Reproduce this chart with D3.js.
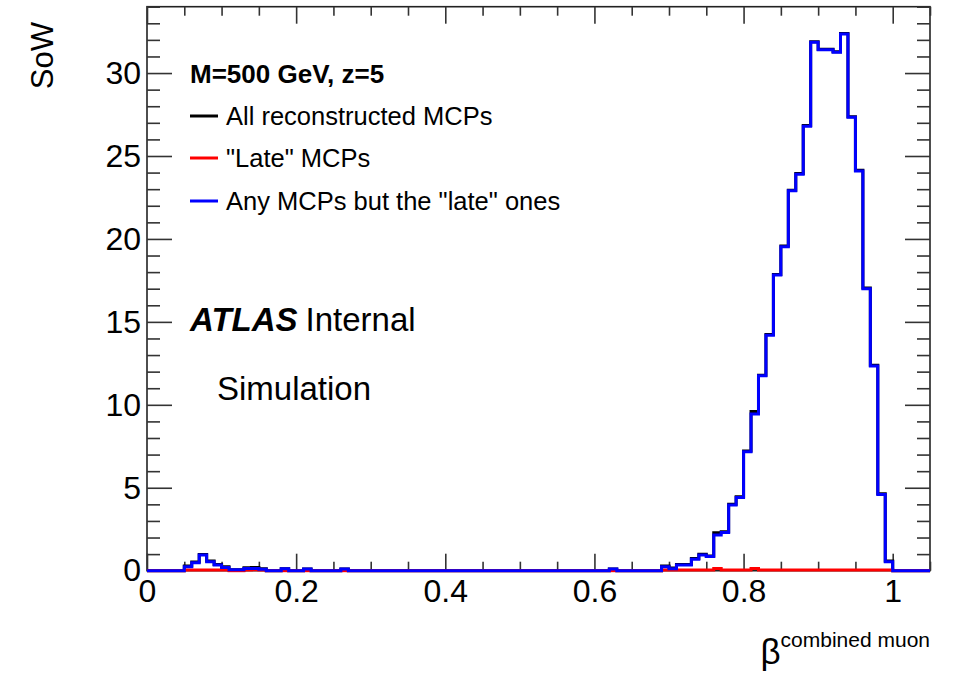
<!DOCTYPE html>
<html>
<head>
<meta charset="utf-8">
<script src="https://cdn.jsdelivr.net/npm/d3@7"></script>
<style>
  html, body { margin: 0; padding: 0; background: #fff; }
  svg { display: block; }
  text { font-family: "Liberation Sans", Arial, Helvetica, sans-serif; fill: #000; }
</style>
</head>
<body>
<svg id="chart" width="956" height="674"></svg>
<script>
// Histogram binning: 105 bins of width 0.01 from 0 to 1.05
const binWidth = 0.01;
const xDomain = [0, 1.05];
const yDomain = [0, 34];

// Bin contents, one entry per non-empty bin: [lowEdge, content]
const blueBins = [
  [0.05, 0.24], [0.06, 0.48], [0.07, 0.94], [0.08, 0.54], [0.09, 0.34], [0.10, 0.20],
  [0.11, 0.05], [0.12, 0.05], [0.13, 0.14], [0.14, 0.14], [0.15, 0.08],
  [0.18, 0.12], [0.21, 0.10], [0.26, 0.10], [0.62, 0.10],
  [0.69, 0.24], [0.70, 0.12], [0.71, 0.34], [0.72, 0.34], [0.73, 0.69], [0.74, 0.95],
  [0.75, 0.85], [0.76, 2.15], [0.77, 2.31], [0.78, 3.96], [0.79, 4.42], [0.80, 7.17],
  [0.81, 9.45], [0.82, 11.75], [0.83, 14.2], [0.84, 17.82], [0.85, 19.53], [0.86, 22.9],
  [0.87, 23.9], [0.88, 26.8], [0.89, 31.85], [0.90, 31.4], [0.91, 31.4], [0.92, 31.25],
  [0.93, 32.35], [0.94, 27.33], [0.95, 24.1], [0.96, 17.0], [0.97, 12.34], [0.98, 4.6],
  [0.99, 0.54]
];

const redBins = [
  [0.05, 0.04], [0.06, 0.04], [0.07, 0.04], [0.08, 0.04], [0.09, 0.04], [0.10, 0.04],
  [0.13, 0.04], [0.14, 0.06], [0.15, 0.04],
  [0.69, 0.04], [0.70, 0.04], [0.71, 0.04], [0.72, 0.04], [0.73, 0.04], [0.74, 0.04],
  [0.75, 0.04], [0.76, 0.14], [0.77, 0.04], [0.78, 0.04], [0.79, 0.04], [0.80, 0.04],
  [0.81, 0.14], [0.82, 0.04], [0.83, 0.04], [0.84, 0.04], [0.85, 0.04], [0.86, 0.04],
  [0.87, 0.04], [0.88, 0.04], [0.89, 0.04], [0.90, 0.04], [0.91, 0.04], [0.92, 0.04],
  [0.93, 0.04], [0.94, 0.04], [0.95, 0.04], [0.96, 0.04], [0.97, 0.04], [0.98, 0.04],
  [0.99, 0.04]
];

const blackBins = [
  [0.05, 0.28], [0.06, 0.52], [0.07, 0.98], [0.08, 0.58], [0.09, 0.38], [0.10, 0.24],
  [0.11, 0.05], [0.12, 0.05], [0.13, 0.18], [0.14, 0.20], [0.15, 0.12],
  [0.18, 0.12], [0.21, 0.10], [0.26, 0.10], [0.62, 0.10],
  [0.69, 0.28], [0.70, 0.16], [0.71, 0.38], [0.72, 0.38], [0.73, 0.73], [0.74, 0.99],
  [0.75, 0.89], [0.76, 2.29], [0.77, 2.35], [0.78, 4.00], [0.79, 4.46], [0.80, 7.21],
  [0.81, 9.59], [0.82, 11.79], [0.83, 14.24], [0.84, 17.86], [0.85, 19.57], [0.86, 22.94],
  [0.87, 23.94], [0.88, 26.84], [0.89, 31.89], [0.90, 31.44], [0.91, 31.44], [0.92, 31.29],
  [0.93, 32.39], [0.94, 27.37], [0.95, 24.14], [0.96, 17.04], [0.97, 12.38], [0.98, 4.64],
  [0.99, 0.58]
];

const xMajorTicks = [0, 0.2, 0.4, 0.6, 0.8, 1.0];
const xTickLabels = ["0", "0.2", "0.4", "0.6", "0.8", "1"];
const yMajorTicks = [0, 5, 10, 15, 20, 25, 30];
const yTickLabels = ["0", "5", "10", "15", "20", "25", "30"];

const legendHeader = "M=500 GeV, z=5";
const legendLabels = ["All reconstructed MCPs", "\"Late\" MCPs", "Any MCPs but the \"late\" ones"];
const legendColors = ["#000000", "#ff0000", "#0000ff"];

// ---- layout ----
const frame = { left: 147, right: 930, top: 6.7, bottom: 570.7 };
const svg = d3.select("#chart");

const x = d3.scaleLinear().domain(xDomain).range([frame.left, frame.right]);
const y = d3.scaleLinear().domain(yDomain).range([frame.bottom, frame.top]);

// Expand sparse bins into the full binned series
const nBins = Math.round((xDomain[1] - xDomain[0]) / binWidth);
function fullSeries(bins) {
  const vals = new Array(nBins).fill(0);
  bins.forEach(([lo, v]) => { vals[Math.round((lo - xDomain[0]) / binWidth)] = v; });
  return vals;
}

// Step outline of a histogram (top contour)
const stepLine = d3.line().x(d => x(d[0])).y(d => y(d[1])).curve(d3.curveStepAfter);
function outline(vals) {
  const pts = vals.map((v, i) => [xDomain[0] + i * binWidth, v]);
  pts.push([xDomain[0] + nBins * binWidth, vals[nBins - 1]]);
  return stepLine(pts);
}

// ---- frame and axes with inward ticks (ROOT style), drawn under the histograms ----
const tickColor = "#333";
const xMinor = d3.range(0, 1.0501, 0.05).filter(v => !xMajorTicks.some(m => Math.abs(m - v) < 1e-6));
const yMinor = d3.range(0, 34.01, 1).filter(v => v % 5 !== 0);

function styleAxis(g) {
  g.select(".domain").remove();
  g.selectAll(".tick line").attr("stroke", tickColor).attr("stroke-width", 1.6);
}

svg.append("rect")
  .attr("x", frame.left).attr("y", frame.top)
  .attr("width", frame.right - frame.left).attr("height", frame.bottom - frame.top)
  .attr("fill", "none").attr("stroke", "#222").attr("stroke-width", 1.6);

// bottom
svg.append("g").attr("transform", `translate(0,${frame.bottom})`)
  .call(d3.axisBottom(x).tickValues(xMajorTicks).tickSize(-17).tickPadding(9)
    .tickFormat((d, i) => xTickLabels[i]))
  .call(styleAxis)
  .call(g => g.selectAll("text").attr("font-size", 32).attr("fill", "#000")
    .attr("font-family", "Liberation Sans, Arial, sans-serif"));
svg.append("g").attr("transform", `translate(0,${frame.bottom})`)
  .call(d3.axisBottom(x).tickValues(xMinor).tickSize(-9).tickFormat(""))
  .call(styleAxis);
// top
svg.append("g").attr("transform", `translate(0,${frame.top})`)
  .call(d3.axisTop(x).tickValues(xMajorTicks).tickSize(-17).tickFormat(""))
  .call(styleAxis);
svg.append("g").attr("transform", `translate(0,${frame.top})`)
  .call(d3.axisTop(x).tickValues(xMinor).tickSize(-9).tickFormat(""))
  .call(styleAxis);
// left
svg.append("g").attr("transform", `translate(${frame.left},0)`)
  .call(d3.axisLeft(y).tickValues(yMajorTicks).tickSize(-25).tickPadding(6)
    .tickFormat((d, i) => yTickLabels[i]))
  .call(styleAxis)
  .call(g => g.selectAll("text").attr("font-size", 32).attr("fill", "#000")
    .attr("font-family", "Liberation Sans, Arial, sans-serif"));
svg.append("g").attr("transform", `translate(${frame.left},0)`)
  .call(d3.axisLeft(y).tickValues(yMinor).tickSize(-13).tickFormat(""))
  .call(styleAxis);
// right
svg.append("g").attr("transform", `translate(${frame.right},0)`)
  .call(d3.axisRight(y).tickValues(yMajorTicks).tickSize(-25).tickFormat(""))
  .call(styleAxis);
svg.append("g").attr("transform", `translate(${frame.right},0)`)
  .call(d3.axisRight(y).tickValues(yMinor).tickSize(-13).tickFormat(""))
  .call(styleAxis);

// ---- histograms ----
const plot = svg.append("g");
plot.append("defs").append("clipPath").attr("id", "clip")
  .append("rect").attr("x", frame.left).attr("y", frame.top - 2)
  .attr("width", frame.right - frame.left).attr("height", frame.bottom - frame.top + 4);

const hists = plot.append("g").attr("clip-path", "url(#clip)");
[[blackBins, "#000000"], [redBins, "#ff0000"], [blueBins, "#0000ff"]].forEach(([bins, col]) => {
  hists.append("path")
    .attr("d", outline(fullSeries(bins)))
    .attr("fill", "none")
    .attr("stroke", col)
    .attr("stroke-width", 3)
    .attr("stroke-linejoin", "miter");
});

// ---- axis titles ----
svg.append("text")
  .attr("transform", "translate(53,22) rotate(-90)")
  .attr("text-anchor", "end")
  .attr("font-size", 31)
  .text("SoW");

const xt = svg.append("text")
  .attr("x", frame.right).attr("y", 664)
  .attr("text-anchor", "end");
xt.append("tspan").attr("font-size", 35).text("β");
xt.append("tspan").attr("font-size", 21).attr("dy", -17).text("combined muon");

// ---- legend ----
svg.append("text").attr("x", 190).attr("y", 83)
  .attr("font-size", 26).attr("font-weight", "bold").text(legendHeader);

const legendY = [116, 158, 201];
legendLabels.forEach((lab, i) => {
  svg.append("line")
    .attr("x1", 190).attr("x2", 218).attr("y1", legendY[i]).attr("y2", legendY[i])
    .attr("stroke", legendColors[i]).attr("stroke-width", 3);
  svg.append("text").attr("x", 226).attr("y", legendY[i] + 9)
    .attr("font-size", 25.5).text(lab);
});

// ---- ATLAS label ----
const atl = svg.append("text").attr("x", 190).attr("y", 331).attr("font-size", 33);
atl.append("tspan").attr("font-weight", "bold").attr("font-style", "italic").text("ATLAS");
atl.append("tspan").attr("dx", 8).text("Internal");

svg.append("text").attr("x", 217).attr("y", 400).attr("font-size", 33).text("Simulation");
</script>
</body>
</html>
